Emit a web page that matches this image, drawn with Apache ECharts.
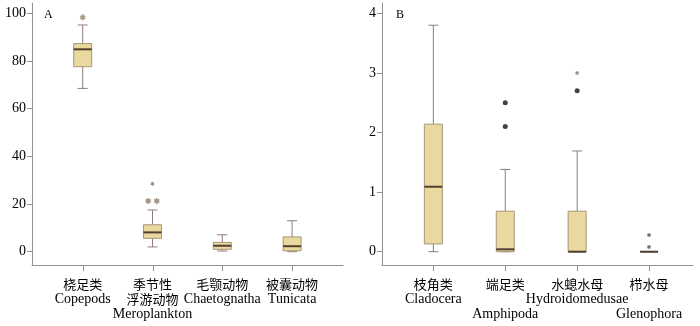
<!DOCTYPE html>
<html>
<head>
<meta charset="utf-8">
<script src="https://cdn.jsdelivr.net/npm/echarts@6/dist/echarts.min.js"></script>
<style>
  html, body { margin: 0; padding: 0; background: #fff; }
  #main { width: 700px; height: 326px; }
</style>
</head>
<body>
<div id="main"></div>
<script>
// A 图类群
const catA = ["桡足类\nCopepods", "季节性\n浮游动物\nMeroplankton", "毛颚动物\nChaetognatha", "被囊动物\nTunicata"];
// 箱线 [min, Q1, median, Q3, max]
const boxA = [
  [68.5, 77.6, 84.9, 87.3, 95.1],
  [2.0, 5.6, 8.1, 11.3, 17.5],
  [0.3, 1.0, 2.5, 3.9, 7.1],
  [0, 0.4, 2.3, 6.2, 13.0]
];
// 离群值 [类别序号, 数值, 类型]
const outA = [[0, 98.3, "ext"], [1, 28.5, "ext2"], [1, 21.3, "ext"], [1, 21.3, "ext"]];
const ticksA = [0, 20, 40, 60, 80, 100];

// B 图类群
const catB = ["枝角类\nCladocera", "端足类\n\nAmphipoda", "水螅水母\nHydroidomedusae", "栉水母\n\nGlenophora"];
const boxB = [
  [0, 0.13, 1.09, 2.14, 3.80],
  [0, 0, 0.04, 0.68, 1.38],
  [0, 0, 0, 0.68, 1.69],
  [0, 0, 0, 0, 0]
];
const outB = [[1, 2.5, "out"], [1, 2.1, "out"], [2, 3.0, "ext2"], [2, 2.7, "out"], [3, 0.28, "dark"], [3, 0.08, "dark"]];
const ticksB = [0, 1, 2, 3, 4];

const fontEn = "'Liberation Serif', 'Noto Sans CJK SC', serif";
const axisGrey = "#929292";
const plotTop = 13.3, plotH = 238.4, gap = 13.3; // 0 刻度到横轴线的距离

// 星号形状
function starPath() {
  let d = "";
  for (let k = 0; k < 3; k++) {
    const a = Math.PI / 2 + k * Math.PI / 3, c = Math.cos(a), s = Math.sin(a);
    const w = 1.4, l = 5;
    const pts = [[-l, -w], [l, -w], [l, w], [-l, w]].map(p => [6 + p[0] * c - p[1] * s, 6 + p[0] * s + p[1] * c]);
    d += "M" + pts.map(p => p[0].toFixed(2) + "," + p[1].toFixed(2)).join("L") + "Z";
  }
  return "path://" + d;
}
const STAR = starPath();
const markStyle = {
  ext: { symbol: STAR, symbolSize: 6, color: "#8d7c6c" },
  ext2: { symbol: STAR, symbolSize: 4, color: "#77706a" },
  dark: { symbol: STAR, symbolSize: 4, color: "#4a4540" },
  out: { symbol: "circle", symbolSize: 5, color: "#111" }
};

function outlierData(list) {
  const seen = {};
  list.forEach(o => { const k = o[0] + "_" + o[1]; seen[k] = (seen[k] || 0) + 1; });
  const used = {};
  return list.map(o => {
    const k = o[0] + "_" + o[1];
    const n = seen[k], idx = used[k] || 0;
    used[k] = idx + 1;
    const st = markStyle[o[2]];
    return {
      value: [o[0], o[1]],
      symbol: st.symbol,
      symbolSize: st.symbolSize,
      symbolOffset: [(idx - (n - 1) / 2) * 8.5, 0],
      itemStyle: { color: st.color }
    };
  });
}

function renderBox(params, api) {
  const i = api.value(0);
  const p = [1, 2, 3, 4, 5].map(d => api.coord([i, api.value(d)]));
  const x = p[0][0], bw = 18, cw = 10;
  const ws = { stroke: "#8e7d7a", lineWidth: 1 };
  const line = (x1, y1, x2, y2, style) => ({ type: "line", shape: { x1, y1, x2, y2 }, style });
  return {
    type: "group",
    children: [
      line(x, p[4][1], x, p[3][1], ws),
      line(x, p[1][1], x, p[0][1], ws),
      line(x - cw / 2, p[4][1], x + cw / 2, p[4][1], ws),
      line(x - cw / 2, p[0][1], x + cw / 2, p[0][1], ws),
      { type: "rect", shape: { x: x - bw / 2, y: p[3][1], width: bw, height: p[1][1] - p[3][1] },
        style: { fill: "#e9d99f", stroke: "#a8977a", lineWidth: 1 } },
      line(x - bw / 2, p[2][1], x + bw / 2, p[2][1], { stroke: "#4f4030", lineWidth: 2 })
    ]
  };
}

// 横轴类别刻度：在类别中心、轴线下方画短线
function renderTick(params, api) {
  const c = api.coord([api.value(0), api.value(1)]);
  const x = Math.round(c[0]) + 0.5, y = c[1] + gap;
  return { type: "line", shape: { x1: x, y1: y, x2: x, y2: y + 6 },
    style: { stroke: axisGrey, lineWidth: 1 } };
}

// 类别标签：中文一种字号，英文一种字号
function catLabel(v) {
  const lines = v.split("\n");
  return lines.map((s, k) => {
    if (s === "") return "{cn| }";
    return k === lines.length - 1 ? "{en|" + s + "}" : "{cn|" + s + "}";
  }).join("\n");
}

const hidden = { show: false };
// 外框坐标轴（只画轴线）
function frameAxis(gi) {
  return { gridIndex: gi, type: "value", min: 0, max: 1, axisLine: { show: true, onZero: false, lineStyle: { color: axisGrey } },
    axisTick: hidden, axisLabel: hidden, splitLine: hidden };
}
// 数据网格：类别轴只出标签
function dataX(gi, cats) {
  return { gridIndex: gi, type: "category", data: cats, boundaryGap: true, offset: gap,
    axisLine: hidden, axisTick: hidden, splitLine: hidden,
    axisLabel: { interval: 0, margin: 12, color: "#000", formatter: catLabel,
      rich: {
        cn: { fontSize: 13, lineHeight: 15, fontFamily: "'Noto Sans CJK SC', sans-serif", color: "#000" },
        en: { fontSize: 14, lineHeight: 15, fontFamily: fontEn, color: "#000" }
      } } };
}
function dataY(gi, ticks, off) {
  return { gridIndex: gi, type: "value", min: ticks[0], max: ticks[ticks.length - 1], interval: ticks[1] - ticks[0],
    offset: off, axisLine: hidden,
    axisTick: { show: true, length: 5, lineStyle: { color: axisGrey } },
    axisLabel: { margin: 6, fontSize: 14, color: "#000", fontFamily: fontEn },
    splitLine: hidden };
}

const gA = { left: 47.8, width: 279.2 }, gB = { left: 397.4, width: 287.6 };

const chart = echarts.init(document.getElementById("main"));
const option = {
  animation: false,
  title: [
    { text: "A", left: 44, top: 9, padding: 0, textStyle: { fontSize: 12, fontWeight: "normal", color: "#000", fontFamily: fontEn } },
    { text: "B", left: 396, top: 9, padding: 0, textStyle: { fontSize: 12, fontWeight: "normal", color: "#000", fontFamily: fontEn } }
  ],
  grid: [
    { left: 32, top: 3, width: 311, height: 262 },
    { left: gA.left, top: plotTop, width: gA.width, height: plotH },
    { left: 382, top: 3, width: 311, height: 262 },
    { left: gB.left, top: plotTop, width: gB.width, height: plotH }
  ],
  xAxis: [frameAxis(0), dataX(1, catA), frameAxis(2), dataX(3, catB)],
  yAxis: [frameAxis(0), dataY(1, ticksA, 15.8), frameAxis(2), dataY(3, ticksB, 15.4)],
  series: [
    { type: "custom", xAxisIndex: 1, yAxisIndex: 1, renderItem: renderBox,
      encode: { x: 0, y: [1, 2, 3, 4, 5] }, data: boxA.map((b, i) => [i].concat(b)) },
    { type: "custom", xAxisIndex: 1, yAxisIndex: 1, renderItem: renderTick, clip: false, silent: true,
      encode: { x: 0, y: 1 }, data: catA.map((c, i) => [i, ticksA[0]]) },
    { type: "scatter", xAxisIndex: 1, yAxisIndex: 1, z: 5, data: outlierData(outA) },
    { type: "custom", xAxisIndex: 3, yAxisIndex: 3, renderItem: renderBox,
      encode: { x: 0, y: [1, 2, 3, 4, 5] }, data: boxB.map((b, i) => [i].concat(b)) },
    { type: "custom", xAxisIndex: 3, yAxisIndex: 3, renderItem: renderTick, clip: false, silent: true,
      encode: { x: 0, y: 1 }, data: catB.map((c, i) => [i, ticksB[0]]) },
    { type: "scatter", xAxisIndex: 3, yAxisIndex: 3, z: 5, data: outlierData(outB) }
  ]
};
chart.setOption(option);
</script>
</body>
</html>
